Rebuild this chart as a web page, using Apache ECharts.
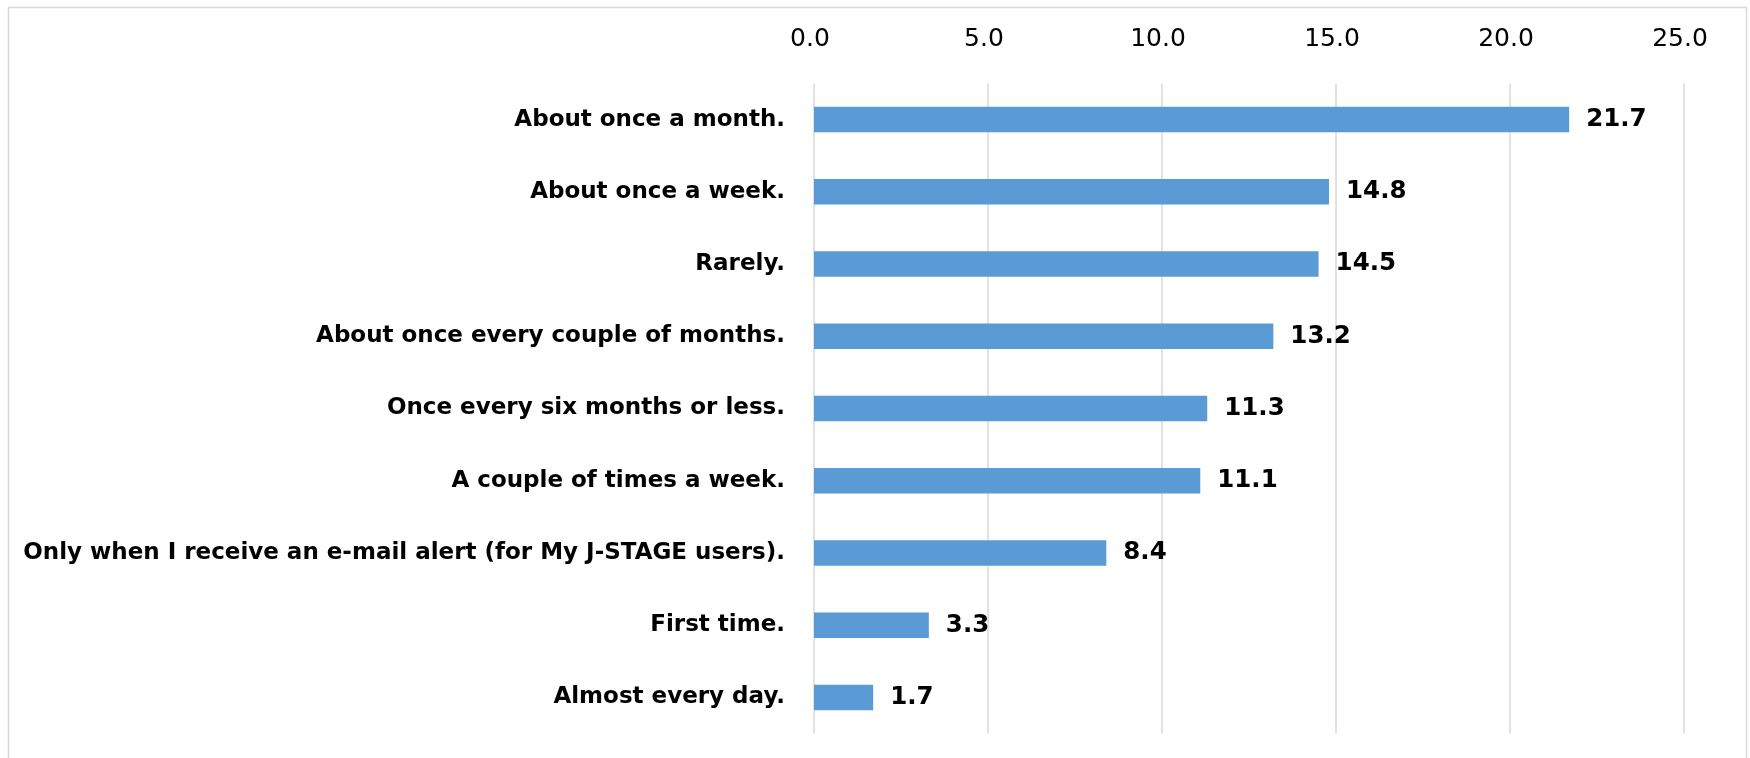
<!DOCTYPE html>
<html>
<head>
<meta charset="utf-8">
<script src="https://cdn.jsdelivr.net/npm/echarts@6/dist/echarts.min.js"></script>
<style>
html, body { margin: 0; padding: 0; background: #fff; }
#chart { width: 1750px; height: 758px; }
</style>
</head>
<body>
<div id="chart"></div>
<script>
// 利用頻度 (%), 上から順
var categories = [
    'About once a month.',
    'About once a week.',
    'Rarely.',
    'About once every couple of months.',
    'Once every six months or less.',
    'A couple of times a week.',
    'Only when I receive an e-mail alert (for My J-STAGE users).',
    'First time.',
    'Almost every day.'
];
var values = [21.7, 14.8, 14.5, 13.2, 11.3, 11.1, 8.4, 3.3, 1.7];
var tickLabels = ['0.0', '5.0', '10.0', '15.0', '20.0', '25.0'];

var myChart = echarts.init(document.getElementById('chart'));
var option = {
    animation: false,
    backgroundColor: '#fff',
    textStyle: { fontFamily: 'DejaVu Sans' },
    graphic: [{
        type: 'rect',
        shape: { x: 8.5, y: 7.5, width: 1738, height: 800 },
        style: { fill: 'none', stroke: '#d9d9d9', lineWidth: 1.5 },
        silent: true
    }],
    grid: { left: 814, right: 66, top: 83.5, bottom: 24.5 },
    xAxis: {
        type: 'value',
        position: 'top',
        min: 0,
        max: 25,
        interval: 5,
        axisLine: { show: false },
        axisTick: { show: false },
        splitLine: { lineStyle: { color: '#d9d9d9', width: 1.5 } },
        axisLabel: {
            margin: 32,
            fontSize: 25,
            color: '#000',
            fontFamily: 'DejaVu Sans',
            padding: [0, 8, 0, 0],
            formatter: function (v) { return tickLabels[Math.round(v / 5)]; }
        }
    },
    yAxis: {
        type: 'category',
        inverse: true,
        data: categories,
        axisLine: { show: false },
        axisTick: { show: false },
        axisLabel: {
            margin: 29,
            fontSize: 23,
            fontWeight: 'bold',
            color: '#000',
            fontFamily: 'DejaVu Sans'
        }
    },
    series: [{
        type: 'bar',
        data: values,
        barWidth: 25.5,
        itemStyle: { color: '#5b9bd5' },
        label: {
            show: true,
            position: 'right',
            distance: 17,
            fontSize: 24.5,
            fontWeight: 'bold',
            color: '#000',
            fontFamily: 'DejaVu Sans',
            formatter: function (p) { return p.value.toFixed(1); }
        }
    }]
};
myChart.setOption(option);
</script>
</body>
</html>
